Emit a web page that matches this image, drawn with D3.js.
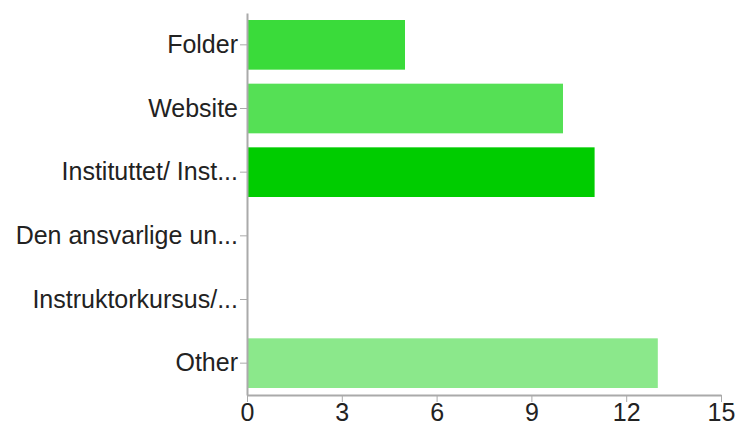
<!DOCTYPE html>
<html>
<head>
<meta charset="utf-8">
<script src="https://cdn.jsdelivr.net/npm/d3@7"></script>
<style>
  body { margin: 0; background: #fff; }
  text { font-family: "Liberation Sans", Arial, sans-serif; fill: #222; }
</style>
</head>
<body>
<svg width="738" height="428"></svg>
<script>
// data
var categories = ["Folder", "Website", "Instituttet/ Inst...", "Den ansvarlige un...", "Instruktorkursus/...", "Other"];
var counts = [5, 10, 11, 0, 0, 13];
var barColors = ["#3adb3a", "#55e055", "#00cc00", "#33cc33", "#33cc33", "#8be88b"];
var xTicks = [0, 3, 6, 9, 12, 15];

var svg = d3.select("svg");
var margin = {left: 247, right: 17, top: 13, bottom: 33};
var width = 738 - margin.left - margin.right,
    height = 428 - margin.top - margin.bottom;

var g = svg.append("g").attr("transform", "translate(" + margin.left + "," + margin.top + ")");

var x = d3.scaleLinear().domain([0, 15]).range([0, width]);
var y = d3.scaleBand().domain(categories).range([0, height]).paddingInner(0.22).paddingOuter(0.11);

// bars
g.selectAll("rect.bar")
  .data(categories)
  .enter().append("rect")
  .attr("class", "bar")
  .attr("x", 0)
  .attr("y", function (d) { return y(d); })
  .attr("width", function (d, i) { return x(counts[i]); })
  .attr("height", y.bandwidth())
  .attr("fill", function (d, i) { return barColors[i]; });

// y axis
var yAxis = g.append("g")
  .call(d3.axisLeft(y).tickSize(7).tickPadding(2).tickSizeOuter(0));
yAxis.select(".domain").attr("stroke", "#aaa").attr("stroke-width", 2);
yAxis.selectAll(".tick line").attr("stroke", "#aaa");
yAxis.selectAll("text").style("font-size", "25px").attr("fill", "#222");

// x axis
var xAxis = g.append("g")
  .attr("transform", "translate(0," + height + ")")
  .call(d3.axisBottom(x).tickValues(xTicks).tickSize(7).tickSizeOuter(0).tickPadding(1));
xAxis.select(".domain").attr("stroke", "#aaa").attr("stroke-width", 2);
xAxis.selectAll(".tick line").attr("stroke", "#aaa");
xAxis.selectAll("text").style("font-size", "25px").attr("fill", "#222");
</script>
</body>
</html>
